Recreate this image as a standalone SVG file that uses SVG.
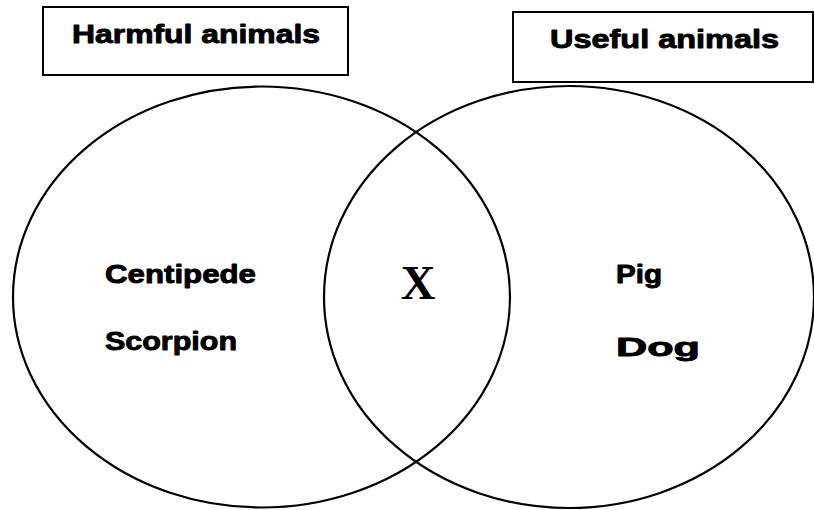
<svg xmlns="http://www.w3.org/2000/svg" width="814" height="510" viewBox="0 0 814 510">
<style>
.box{fill:#fff;stroke:#000;stroke-width:2}
.ring{fill:none;stroke:#000;stroke-width:2.2}
.t{font-family:"Liberation Sans",Arial,sans-serif;font-weight:bold;font-size:26px;fill:#000;stroke:#000;stroke-width:0.9;stroke-linejoin:round}
.x{font-family:"Liberation Serif","Times New Roman",serif;font-weight:bold;font-size:48px;fill:#000}
</style>
<rect width="814" height="510" fill="#fff"/>
<g id="connectors"></g>
<g id="harmful-set">
<ellipse class="ring" cx="261.5" cy="297" rx="248.5" ry="210.5"/>
</g>
<g id="useful-set">
<ellipse class="ring" cx="569" cy="297" rx="245" ry="211"/>
</g>
<g id="harmful-label">
<rect class="box" x="43" y="7" width="305" height="68"/>
<text class="t" x="72" y="43" textLength="248" lengthAdjust="spacingAndGlyphs">Harmful animals</text>
</g>
<g id="useful-label">
<rect class="box" x="513" y="12" width="300" height="70"/>
<text class="t" x="550" y="48" textLength="229" lengthAdjust="spacingAndGlyphs">Useful animals</text>
</g>
<g id="harmful-items">
<text class="t" x="105" y="283" textLength="151" lengthAdjust="spacingAndGlyphs">Centipede</text>
<text class="t" x="105" y="350" textLength="132" lengthAdjust="spacingAndGlyphs">Scorpion</text>
</g>
<g id="useful-items">
<text class="t" x="616" y="283" textLength="46" lengthAdjust="spacingAndGlyphs">Pig</text>
<text class="t" x="616" y="356" textLength="84" lengthAdjust="spacingAndGlyphs">Dog</text>
</g>
<g id="both">
<text class="x" x="418" y="299" text-anchor="middle">X</text>
</g>
</svg>
